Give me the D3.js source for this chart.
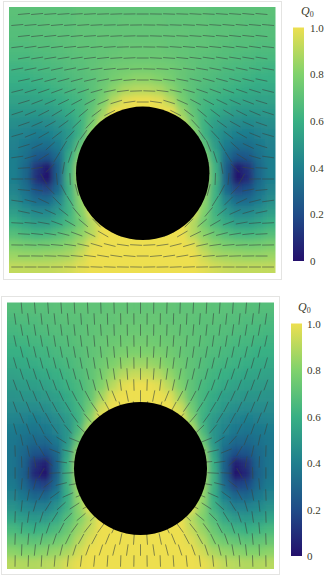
<!DOCTYPE html>
<html><head><meta charset="utf-8">
<style>html,body{margin:0;padding:0;background:#fff;overflow:hidden}svg{display:block}
text{font-family:"Liberation Serif",serif;fill:#3a3a2a}</style>
<script src="https://cdn.jsdelivr.net/npm/d3@7"></script></head><body>
<script>
const colorbarStops = ["#24106c","#1f4c88","#1f7f8e","#38b084","#80d26c","#eddf50"];
const tickValues = [0,0.2,0.4,0.6,0.8,1];
const tickLabels = ["0","0.2","0.4","0.6","0.8","1.0"];
const legendTitle = "Q";
const legendSub = "0";

// Q: left half of each panel, top row first (right half is its mirror)
const topPanelQ = [
[.70,.70,.70,.70,.70,.70,.71,.71,.71,.71,.71,.71],
[.69,.69,.69,.70,.70,.70,.71,.71,.71,.71,.72,.72],
[.68,.68,.69,.69,.70,.70,.71,.71,.72,.72,.72,.72],
[.67,.67,.68,.68,.69,.70,.71,.71,.72,.72,.73,.73],
[.65,.65,.66,.67,.68,.69,.70,.71,.72,.73,.74,.74],
[.62,.63,.64,.65,.66,.68,.69,.71,.73,.75,.76,.77],
[.60,.60,.61,.63,.64,.66,.68,.70,.73,.77,.80,.82],
[.57,.57,.58,.60,.62,.64,.66,.70,.75,.82,.88,.90],
[.54,.54,.55,.56,.58,.61,.64,.70,.78,.90,.98,1],
[.50,.50,.50,.51,.54,.58,.63,.72,.85,1,1,1],
[.46,.45,.44,.45,.48,.53,.62,.76,.92,1,1,1],
[.43,.41,.39,.40,.44,.50,.62,.84,1,1,1,1],
[.41,.37,.33,.33,.39,.52,.70,.92,1,1,1,1],
[.40,.34,.25,.23,.33,.58,.80,.97,1,1,1,1],
[.40,.31,.12,.02,.28,.62,.88,1,1,1,1,1],
[.40,.31,.10,.00,.28,.64,.88,1,1,1,1,1],
[.42,.34,.22,.18,.32,.62,.85,1,1,1,1,1],
[.46,.39,.32,.32,.42,.62,.82,.98,1,1,1,1],
[.52,.47,.43,.43,.50,.62,.80,.96,1,1,1,1],
[.60,.55,.52,.52,.58,.66,.76,.90,1,1,1,1],
[.68,.65,.63,.64,.68,.74,.82,.90,1,1,1,1],
[.78,.76,.75,.76,.78,.82,.88,.98,1,1,1,1],
[.85,.84,.84,.85,.86,.88,.94,1,1,1,1,1],
[.92,.92,.92,.92,.93,.95,.98,1,1,1,1,1]];

const bottomPanelQ = [
[.68,.68,.69,.69,.70,.70,.71,.71,.71,.72,.72,.72],
[.66,.67,.67,.68,.69,.70,.70,.71,.72,.72,.73,.73],
[.64,.65,.66,.67,.68,.69,.70,.71,.72,.73,.74,.74],
[.62,.63,.64,.65,.67,.68,.70,.71,.73,.74,.75,.76],
[.60,.60,.62,.63,.65,.67,.69,.71,.73,.76,.78,.79],
[.57,.58,.59,.61,.63,.65,.68,.71,.75,.79,.83,.85],
[.54,.55,.56,.58,.60,.63,.67,.71,.77,.84,.90,.93],
[.51,.52,.53,.54,.57,.61,.65,.71,.80,.90,.98,1],
[.48,.49,.49,.51,.53,.58,.64,.72,.86,.98,1,1],
[.45,.45,.45,.46,.50,.55,.63,.76,.94,1,1,1],
[.42,.41,.40,.41,.45,.51,.62,.82,1,1,1,1],
[.39,.37,.36,.37,.42,.49,.66,.90,1,1,1,1],
[.37,.34,.31,.31,.37,.50,.74,.96,1,1,1,1],
[.36,.31,.24,.22,.31,.55,.84,1,1,1,1,1],
[.36,.29,.11,.04,.28,.60,.88,1,1,1,1,1],
[.36,.28,.08,.00,.28,.62,.88,1,1,1,1,1],
[.38,.31,.20,.17,.32,.62,.86,1,1,1,1,1],
[.42,.37,.30,.30,.40,.60,.84,1,1,1,1,1],
[.48,.44,.41,.41,.48,.62,.82,.98,1,1,1,1],
[.56,.52,.50,.51,.57,.68,.80,.90,1,1,1,1],
[.65,.62,.60,.62,.66,.74,.85,.93,1,1,1,1],
[.73,.71,.70,.72,.75,.80,.90,.97,1,1,1,1],
[.82,.80,.80,.82,.84,.88,.95,1,1,1,1,1],
[.90,.89,.89,.90,.92,.96,.99,1,1,1,1,1]];

// director angle (degrees, + rises to the right) on the left half of the staggered lattice
const topPanelAngles = [
[5,5,4,4,3,3,2,2,1,0],
[5,5,5,5,4,4,3,2,2,1],
[6,6,6,5,5,4,3,3,2,0],
[7,8,7,7,6,5,5,4,2,1],
[9,9,9,9,8,7,6,4,3,0],
[10,11,12,12,11,10,8,6,4,2],
[12,14,15,15,15,13,11,8,5,0],
[14,17,19,20,20,19,16,12,7,2],
[17,21,24,26,28,28,24,17,8,0],
[18,23,27,31,37,40,37,27,12,3],
[19,24,29,36,44,47,40,30,15,0],
[16,22,30,38,47,54,50,40,20,5],
[17,25,42,58,68,65,50,40,20,0],
[8,16,32,58,72,80,60,40,20,5],
[3,8,45,80,88,80,60,40,20,0],
[0,-1,-60,-85,-88,-90,-60,-40,-20,-5],
[-5,-10,-45,-62,-75,-80,-60,-40,-20,0],
[-8,-14,-25,-45,-58,-68,-60,-40,-20,-5],
[-12,-16,-24,-38,-50,-58,-55,-40,-20,0],
[-3,-5,-10,-20,-30,-40,-46,-40,-20,-5],
[-3,-6,-9,-14,-20,-26,-30,-25,-10,0],
[-1,-2,-3,-5,-8,-12,-16,-14,-8,-3],
[0,-1,-2,-3,-5,-7,-9,-8,-5,0],
[0,0,0,0,-1,-1,-2,-2,-1,-1]];

const bottomPanelAngles = [
[-85,-85,-86,-86,-87,-87,-88,-88,-89,-90],
[-82,-83,-84,-84,-85,-86,-87,-88,-89,-89.5],
[-80,-81,-82,-83,-84,-85,-86,-88,-89,-90],
[-78,-79,-80,-81,-82,-83,-85,-86,-88,-89],
[-76,-77,-78,-79,-80,-82,-84,-85,-87,-90],
[-74,-74,-75,-76,-77,-79,-81,-83,-86,-89],
[-72,-72,-72,-73,-75,-77,-79,-82,-86,-90],
[-70,-70,-69,-70,-71,-73,-75,-78,-83,-88],
[-69,-68,-66,-65,-63,-62,-62,-68,-79,-90],
[-70,-68,-65,-62,-59,-57,-55,-62,-72,-84],
[-68,-66,-62,-58,-54,-50,-50,-55,-70,-90],
[-75,-70,-63,-55,-50,-44,-40,-50,-70,-85],
[-78,-68,-48,-32,-22,-20,-30,-50,-70,-90],
[-88,-78,-60,-22,-13,-10,-30,-50,-70,-85],
[-88,-80,-40,-8,-5,-10,-30,-50,-70,-90],
[90,88,60,3,3,4,30,50,70,85],
[85,75,38,14,10,12,30,50,70,90],
[88,80,62,36,24,22,30,50,70,85],
[84,74,58,42,33,30,35,50,70,90],
[88,82,72,58,46,40,44,55,70,85],
[85,79,71,62,54,52,54,65,78,90],
[88,85,78,71,64,61,62,68,78,86],
[88,84,80,76,72,70,72,76,82,90],
[89,88,87,85,84,83,84,86,88,89]];

const layouts = [
 {q:topPanelQ, a:topPanelAngles, frame:[3,1,281,279], box:[9,7,275.5,273], circle:[142.7,173.3,66.7], row0:14, dash:12,
  bar:[293,304,27.5,261], labelX:310, titleX:301, titleY:15},
 {q:bottomPanelQ, a:bottomPanelAngles, frame:[1,296,279,574], box:[7,302.5,274,569], circle:[140.5,468.5,66.5], row0:308, dash:11.5,
  bar:[291,302,323.5,556], labelX:307, titleX:298, titleY:311}
];

const svg = d3.select("body").append("svg").attr("width",324).attr("height",576);
const defs = svg.append("defs");
const color = d3.scaleLinear().domain(d3.range(colorbarStops.length).map(i=>i/(colorbarStops.length-1))).range(colorbarStops).clamp(true);

defs.append("filter").attr("id","soft").attr("filterUnits","userSpaceOnUse")
  .attr("x",-60).attr("y",-60).attr("width",460).attr("height",700)
  .append("feGaussianBlur").attr("stdDeviation",3.1);
const grad = defs.append("linearGradient").attr("id","cbar").attr("x1",0).attr("x2",0).attr("y1",1).attr("y2",0);
colorbarStops.forEach((c,i)=>grad.append("stop").attr("offset",i/(colorbarStops.length-1)).attr("stop-color",c));

layouts.forEach((L,p)=>{
  const [x0,y0,x1,y1]=L.box, [cx,cy,r]=L.circle;
  const g = svg.append("g");
  g.append("rect").attr("x",L.frame[0]+.5).attr("y",L.frame[1]+.5)
    .attr("width",L.frame[2]-L.frame[0]).attr("height",L.frame[3]-L.frame[1])
    .attr("fill","#fff").attr("stroke","#e4e4e2");
  defs.append("clipPath").attr("id","clip"+p).append("rect").attr("x",x0).attr("y",y0).attr("width",x1-x0).attr("height",y1-y0);
  const clip = g.append("g").attr("clip-path",`url(#clip${p})`);

  // heat cells
  const nRows=L.q.length, nCols=L.q[0].length*2;
  const xb=d3.scaleBand().domain(d3.range(nCols)).range([x0,x1]);
  const yb=d3.scaleBand().domain(d3.range(nRows)).range([y0,y1]);
  const cells=[];
  L.q.forEach((row,j)=>row.forEach((v,i)=>{cells.push({i,j,v});cells.push({i:nCols-1-i,j,v});}));
  const pad=25;
  clip.append("g").attr("filter","url(#soft)").selectAll("rect").data(cells).join("rect")
    .attr("x",d=>xb(d.i)-(d.i===0?pad:0)-.3)
    .attr("y",d=>yb(d.j)-(d.j===0?pad:0)-.3)
    .attr("width",d=>xb.bandwidth()+(d.i===0||d.i===nCols-1?pad:0)+.6)
    .attr("height",d=>yb.bandwidth()+(d.j===0||d.j===nRows-1?pad:0)+.6)
    .attr("fill",d=>color(d.v));

  // director dashes
  const xl=d3.scaleLinear().domain([-20,20]).range([cx-132,cx+132]);
  const yl=d3.scaleLinear().domain([0,23]).range([L.row0,L.row0+253]);
  const marks=[];
  L.a.forEach((row,k)=>row.forEach((deg,i)=>{
    const lat=(k%2===0?-18:-19)+2*i;
    marks.push({k,lat,deg});
    if(lat!==0) marks.push({k,lat:-lat,deg:-deg});
  }));
  const rad=d3.scaleLinear().domain([0,180]).range([0,Math.PI]);
  const hl=L.dash/2;
  clip.append("g").selectAll("line").data(marks).join("line")
    .attr("x1",d=>xl(d.lat)-hl*Math.cos(rad(d.deg)))
    .attr("x2",d=>xl(d.lat)+hl*Math.cos(rad(d.deg)))
    .attr("y1",d=>yl(d.k)+hl*Math.sin(rad(d.deg)))
    .attr("y2",d=>yl(d.k)-hl*Math.sin(rad(d.deg)))
    .attr("stroke","#3a4640").attr("stroke-opacity",.7).attr("stroke-width",.85);

  // excluded disc
  clip.append("circle").attr("cx",cx).attr("cy",cy).attr("r",r).attr("fill","#000");

  // colour bar
  const [bx0,bx1,by0,by1]=L.bar;
  g.append("rect").attr("x",bx0).attr("y",by0).attr("width",bx1-bx0).attr("height",by1-by0).attr("fill","url(#cbar)");
  const yc=d3.scaleLinear().domain([0,1]).range([by1,by0]);
  const axis=d3.axisRight(yc).tickValues(tickValues).tickSize(0).tickPadding(0)
    .tickFormat(v=>tickLabels[tickValues.indexOf(v)]);
  const ax=g.append("g").attr("transform",`translate(${L.labelX},0)`).call(axis);
  ax.select(".domain").remove();
  ax.selectAll("text").style("font-size","11px").style("font-family",'"Liberation Serif",serif').attr("fill","#3a3a2a");
  const t=g.append("text").attr("x",L.titleX).attr("y",L.titleY).style("font-size","12px");
  t.append("tspan").attr("font-style","italic").text(legendTitle);
  t.append("tspan").attr("font-size","8px").attr("dy",2).text(legendSub);
});
</script></body></html>
